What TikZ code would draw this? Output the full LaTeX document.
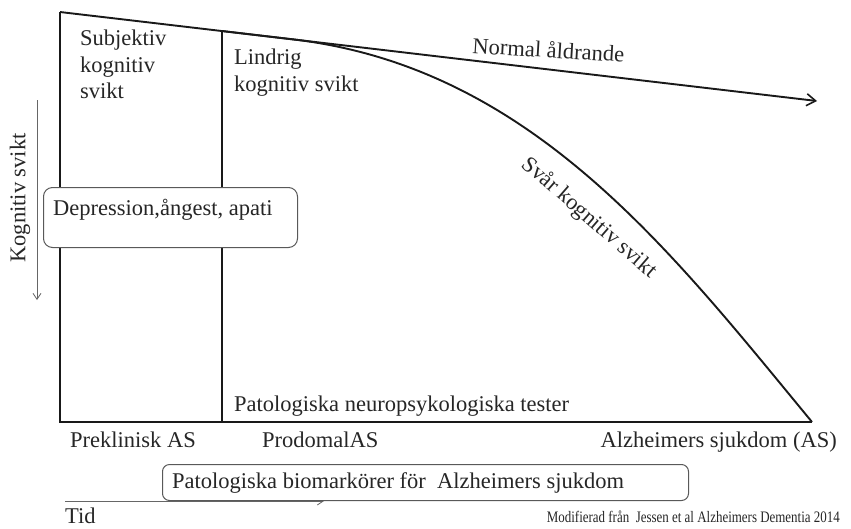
\documentclass[tikz,border=0pt]{standalone}
\usepackage{fontspec}
\usepackage{graphicx}
\setmainfont{Liberation Serif}
\usetikzlibrary{arrows.meta}
\begin{document}
\begin{tikzpicture}[x=1pt,y=-1pt,
  lbl/.style={font=\fontsize{22.5}{27}\selectfont, inner sep=0pt, anchor=base west, text=black!85},
  mainline/.style={line width=1.9pt, black!90},
  divline/.style={line width=1.5pt, black!90},
  axisarrow/.style={line width=0.8pt, black!60, -{Straight Barb[length=6pt,width=8pt]}},
  roundbox/.style={draw=black!65, line width=1pt, rounded corners=9pt, fill=white, inner sep=0pt, anchor=north west}
]
\useasboundingbox (0,0) rectangle (851,528);

% key coordinates
\coordinate (tl) at (60,12);
\coordinate (bl) at (60,422);
\coordinate (br) at (812,422);
\coordinate (tip) at (817,101);
\coordinate (vt) at (222,31);
\coordinate (vb) at (222,422);
\coordinate (fork) at (290,39);
\coordinate (ya) at (37,100);
\coordinate (yb) at (37,300);
\coordinate (ta) at (65,501);
\coordinate (tb) at (324,501);

% axes of the frame
\draw[mainline] (tl) -- (bl) -- (br);
\draw[divline] (vt) -- (vb);
\draw[mainline, -{Straight Barb[length=9pt,width=12pt,line width=1.6pt]}] (tl) -- (tip);
\draw[mainline] (vt) -- (fork) .. controls (530,66) and (670,250) .. (br);

% side arrows
\draw[axisarrow] (ya) -- (yb);
\draw[axisarrow] (ta) -- (tb);

% texts in the frame
\node[lbl] (subj) at (80,45) {Subjektiv};
\node[lbl] (subj2) at (80,72) {kognitiv};
\node[lbl] (subj3) at (80,98) {svikt};
\node[lbl] (lind) at (234,64) {Lindrig};
\node[lbl] (lind2) at (234,91) {kognitiv svikt};
\node[lbl, rotate=-3.5] (norm) at (472,53) {Normal åldrande};
\node[lbl, anchor=center, rotate=-41] (svar) at (589,218) {Svår kognitiv svikt};
\node[lbl] (pato) at (234,411) {Patologiska neuropsykologiska tester};
\node[lbl, anchor=center, rotate=90] (kog) at (20,198) {Kognitiv svikt};

% depression box
\node[roundbox, minimum width=254pt, minimum height=60pt] (dep) at (43,187) {};
\node[lbl] (deptext) at (53,215) {Depression,ångest, apati};

% bottom labels
\node[lbl] (prek) at (70,447) {Preklinisk AS};
\node[lbl] (prod) at (262,447) {ProdomalAS};
\node[lbl, anchor=base east] (alz) at (837,447) {Alzheimers sjukdom (AS)};

% biomarker box
\node[roundbox, rounded corners=7pt, minimum width=526pt, minimum height=36pt] (bio) at (162,464) {};
\node[lbl] (biotext) at (172,488) {Patologiska biomarkörer för \ Alzheimers sjukdom};

\node[lbl] (tid) at (65,523) {Tid};
\node[lbl, anchor=base east, font=\fontsize{16}{19}\selectfont] (mod) at (840,522) {\scalebox{0.81}[1]{Modifierad från \ Jessen et al Alzheimers Dementia 2014}};
\end{tikzpicture}
\end{document}
